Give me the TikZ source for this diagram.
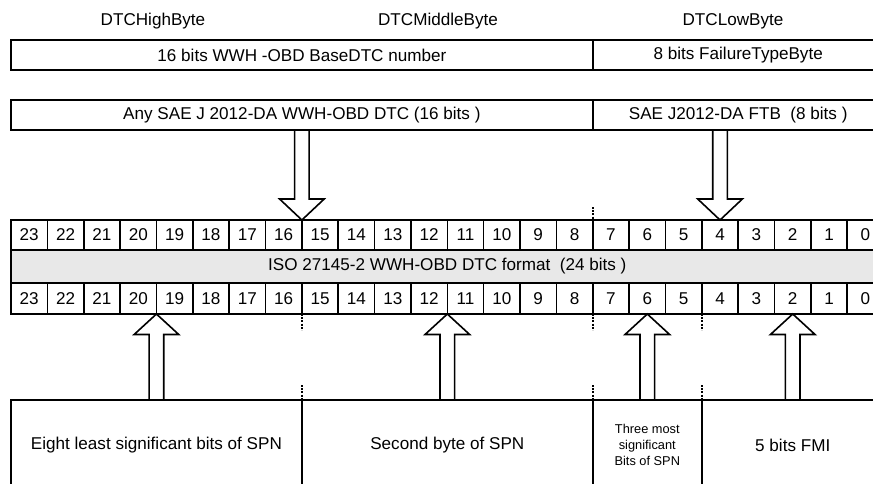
\documentclass[tikz,border=0pt]{standalone}
\usepackage{fontspec}
\setmainfont{Liberation Sans}
\newcommand\myDownArrow[3]{% tip x, tip y, tail y
  \draw[blockarrow] ({#1-7.3},#3) -- ({#1-7.3},{#2-21}) -- ({#1-22.3},{#2-21}) -- (#1,#2)
    -- ({#1+22.3},{#2-21}) -- ({#1+7.3},{#2-21}) -- ({#1+7.3},#3);}
\newcommand\myUpArrow[3]{% tip x, tip y, tail y
  \draw[blockarrow] ({#1-7.3},#3) -- ({#1-7.3},{#2+20.5}) -- ({#1-22.3},{#2+20.5}) -- (#1,#2)
    -- ({#1+22.3},{#2+20.5}) -- ({#1+7.3},{#2+20.5}) -- ({#1+7.3},#3);}
\begin{document}
\begin{tikzpicture}[x=1pt,y=-1pt,
  txt/.style={inner sep=0pt, font=\fontsize{17.1}{20}\selectfont},
  box/.style={draw, line width=1.6pt, inner sep=0pt, font=\fontsize{17.1}{20}\selectfont, align=center},
  cell/.style={box, minimum width=36.36pt},
  greyrow/.style={box, fill=black!9},
  smalltxt/.style={font=\fontsize{12.8}{15.7}\selectfont},
  blockarrow/.style={draw, line width=1.6pt, line join=miter},
  dashline/.style={line width=1.6pt, dash pattern=on 2pt off 1.2pt}]
\useasboundingbox (0,0) rectangle (873,483);
\clip (0,0) rectangle (873,483);
% byte labels
\node[txt] (hi) at (153,21) {DTCHighByte};
\node[txt] (mid) at (438,21) {DTCMiddleByte};
\node[txt] (lo) at (733,21) {DTCLowByte};
% top boxes
\node[box, minimum width=581.76pt, minimum height=30pt] (base) at (301.88,55) {16 bits WWH -OBD BaseDTC number};
\node[box, minimum width=290.88pt, minimum height=30pt] (ftb) at (738.2,55) {8 bits FailureTypeByte};
\node[box, minimum width=581.76pt, minimum height=30pt] (sae) at (301.88,115) {Any SAE J 2012-DA WWH-OBD DTC (16 bits )};
\node[box, minimum width=290.88pt, minimum height=30pt] (saeftb) at (738.2,115) {SAE J2012-DA FTB\ \ (8 bits )};
% grey row
\node[greyrow, minimum width=872.64pt, minimum height=33pt] (fmt) at (447.32,266.5) {ISO 27145-2 WWH-OBD DTC format\ \ (24 bits )};
% bit cells
\foreach \i in {0,...,23} {
  \pgfmathsetmacro\bitn{int(23-\i)}
  \pgfmathsetmacro\cx{11+(\i+0.5)*36.36}
  \node[cell, minimum height=30pt] (ra\bitn) at (\cx,235) {\bitn};
  \node[cell, minimum height=31pt] (rb\bitn) at (\cx,298.5) {\bitn};
}
% bottom boxes
\node[box, minimum width=290.88pt, minimum height=90pt] (spn1) at (156.44,445) {Eight least significant bits of SPN};
\node[box, minimum width=290.88pt, minimum height=90pt] (spn2) at (447.32,445) {Second byte of SPN};
\node[box, minimum width=109.08pt, minimum height=90pt, smalltxt] (spn3) at (647.3,445) {Three most\\significant\\Bits of SPN};
\node[box, minimum width=181.8pt, minimum height=90pt] (fmi) at (792.74,445) {5 bits FMI};
% dashed separators
\draw[dashline] (592.76,207) -- (592.76,226);
\foreach \xx in {301.88,592.76,701.84} {
  \draw[dashline] (\xx,314) -- (\xx,330);
  \draw[dashline] (\xx,385) -- (\xx,410);
}
% block arrows
\myDownArrow{301.88}{220}{130}
\myDownArrow{720.02}{220}{130}
\myUpArrow{156.44}{314}{400}
\myUpArrow{447.32}{314}{400}
\myUpArrow{647.3}{314}{400}
\myUpArrow{792.74}{314}{400}
\end{tikzpicture}
\end{document}
